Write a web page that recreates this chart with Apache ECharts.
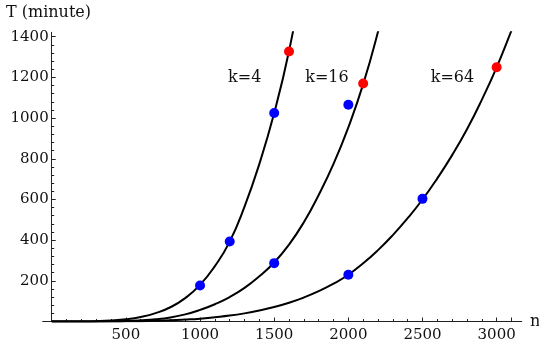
<!DOCTYPE html>
<html><head><meta charset="utf-8">
<script src="https://cdn.jsdelivr.net/npm/echarts@6/dist/echarts.min.js"></script>
<style>html,body{margin:0;padding:0;background:#fff}#c{width:539px;height:348px}</style>
</head><body><div id="c"></div>
<script>
// Curves (every 100 of n)
const curveK4N  = [0,100,200,300,400,500,600,700,800,900,1000,1100,1200,1300,1400,1500,1600,1700];
const curveK4T  = [0,0,0.3,1.5,4.5,10.5,22,41,70,115,180,272,393,565,775,1025,1330,1720];
const curveK16N = [0,100,200,300,400,500,600,700,800,900,1000,1100,1200,1300,1400,1500,1600,1700,1800,1900,2000,2100,2200,2300];
const curveK16T = [0,0,0,0.4,1,2.5,6,11,20,35,57,85,120,165,222,290,378,488,622,775,955,1167,1425,1720];
const curveK64N = [0,100,200,300,400,500,600,700,800,900,1000,1100,1200,1300,1400,1500,1600,1700,1800,1900,2000,2100,2200,2300,2400,2500,2600,2700,2800,2900,3000,3100,3200];
const curveK64T = [0,0,0,0.1,0.4,0.9,1.8,3.4,5.7,9.4,14,21,29,40,54,71,92,118,149,186,230,286,351,425,508,600,704,818,945,1090,1250,1431,1620];
// Measured points
const blueN = [1000,1200,1500, 1500,2000, 2000,2500];
const blueT = [177,393,1025, 287,1066, 230,603];
const redN  = [1600,2100,3000];
const redT  = [1328,1170,1250];
// Labels
const curveLabels = ['k=4','k=16','k=64'];
const xName = 'n', yName = 'T (minute)';

const zip = (a,b)=>a.map((v,i)=>[v,b[i]]);
const FONT = 'DejaVu Serif';
const AX = '#222';
const chart = echarts.init(document.getElementById('c'));
const lineS = (n,t)=>({type:'line', data:zip(n,t), smooth:0.5, showSymbol:false, clip:true,
  lineStyle:{color:'#000', width:2}, z:2, silent:true, xAxisIndex:0, yAxisIndex:0});
const lbl = v => (v===0 ? '' : String(v));
chart.setOption({
  animation:false,
  grid:[
    {left:42.7, right:17.3, top:32.3, bottom:26.5},
    {left:51.7, right:27.5, top:36.7, bottom:26.5}
  ],
  xAxis:[
    {type:'value', gridIndex:0, min:-61, max:3169, splitLine:{show:false},
      axisLine:{lineStyle:{color:AX,width:1}}, axisTick:{show:false}, axisLabel:{show:false}},
    {type:'value', gridIndex:1, min:0, max:3100, interval:500, splitLine:{show:false},
      axisLine:{show:false},
      axisTick:{inside:true,length:4,lineStyle:{color:AX}},
      minorTick:{show:true,splitNumber:5,length:2.5,lineStyle:{color:AX}},
      axisLabel:{formatter:lbl,showMaxLabel:false,showMinLabel:false,fontFamily:FONT,fontSize:15,color:'#111',margin:6}}
  ],
  yAxis:[
    {type:'value', gridIndex:0, min:0, max:1422, splitLine:{show:false},
      axisLine:{onZero:true,lineStyle:{color:AX,width:1}}, axisTick:{show:false}, axisLabel:{show:false}},
    {type:'value', gridIndex:1, min:0, max:1400, interval:200, splitLine:{show:false},
      axisLine:{show:false},
      axisTick:{inside:true,length:4,lineStyle:{color:AX}},
      minorTick:{show:true,splitNumber:5,length:2.5,lineStyle:{color:AX}},
      axisLabel:{formatter:lbl,showMinLabel:false,fontFamily:FONT,fontSize:15,color:'#111',margin:3}}
  ],
  series:[
    lineS(curveK4N,curveK4T), lineS(curveK16N,curveK16T), lineS(curveK64N,curveK64T),
    {type:'scatter', xAxisIndex:0, yAxisIndex:0, data:zip(blueN,blueT), symbolSize:10, itemStyle:{color:'#0000ff',opacity:1}, z:3},
    {type:'scatter', xAxisIndex:0, yAxisIndex:0, data:zip(redN,redT), symbolSize:10, itemStyle:{color:'#ff0000',opacity:1}, z:3}
  ],
  graphic:[
    {type:'text', left:6, top:5, style:{text:yName, font:'16px "DejaVu Serif"', fill:'#111'}},
    {type:'text', x:530, y:322, style:{text:xName, font:'16px "DejaVu Serif"', fill:'#111', verticalAlign:'middle'}},
    {type:'text', x:244.7, y:77.5, style:{text:curveLabels[0], font:'16px "DejaVu Serif"', fill:'#111', align:'center', verticalAlign:'middle'}},
    {type:'text', x:327, y:77.5, style:{text:curveLabels[1], font:'16px "DejaVu Serif"', fill:'#111', align:'center', verticalAlign:'middle'}},
    {type:'text', x:452.5, y:77.5, style:{text:curveLabels[2], font:'16px "DejaVu Serif"', fill:'#111', align:'center', verticalAlign:'middle'}}
  ]
});
</script></body></html>
